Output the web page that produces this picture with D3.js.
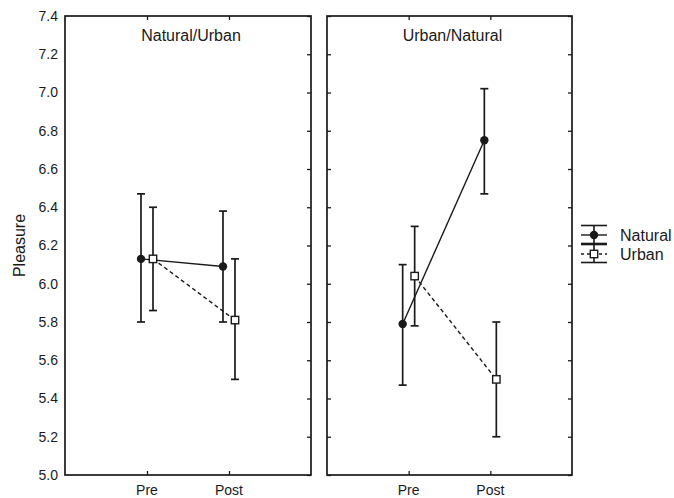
<!DOCTYPE html>
<html>
<head>
<meta charset="utf-8">
<script src="https://cdn.jsdelivr.net/npm/d3@7"></script>
<style>
  body { margin: 0; background: #fff; }
  text { font-family: "Liberation Sans", Arial, sans-serif; fill: #1a1a1a; }
</style>
</head>
<body>
<div id="chart"></div>
<script>
// data
var panels = ["Natural/Urban", "Urban/Natural"];
var times = ["Pre", "Post"];
var seriesNames = ["Natural", "Urban"];

// mean, lower, upper  [panel][time]
var naturalMean  = [[6.13, 6.09], [5.79, 6.75]];
var naturalLow   = [[5.80, 5.80], [5.47, 6.47]];
var naturalHigh  = [[6.47, 6.38], [6.10, 7.02]];
var urbanMean    = [[6.13, 5.81], [6.04, 5.50]];
var urbanLow     = [[5.86, 5.50], [5.78, 5.20]];
var urbanHigh    = [[6.40, 6.13], [6.30, 5.80]];

var yTicks = [5.0, 5.2, 5.4, 5.6, 5.8, 6.0, 6.2, 6.4, 6.6, 6.8, 7.0, 7.2, 7.4];

var width = 674, height = 498;
var topY = 16, bottomY = 475;
var panelX = [[65, 311], [327, 572]];
var offset = [-6, 6];   // Natural left, Urban right of the tick
var ink = "#1a1a1a";

var svg = d3.select("#chart").append("svg")
    .attr("width", width)
    .attr("height", height);

var y = d3.scaleLinear().domain([5.0, 7.4]).range([bottomY, topY]);

var series = [
  { name: seriesNames[0], mean: naturalMean, low: naturalLow, high: naturalHigh, dash: null, marker: "circle" },
  { name: seriesNames[1], mean: urbanMean, low: urbanLow, high: urbanHigh, dash: "4,3", marker: "square" }
];

function drawMarker(g, type, cx, cy) {
  if (type == "circle") {
    g.append("circle").attr("cx", cx).attr("cy", cy).attr("r", 4.2)
      .attr("fill", ink);
  } else {
    g.append("rect").attr("x", cx - 3.7).attr("y", cy - 3.7)
      .attr("width", 7.4).attr("height", 7.4)
      .attr("fill", "#fff").attr("stroke", ink).attr("stroke-width", 1.4);
  }
}

panels.forEach(function(title, p) {
  var x0 = panelX[p][0], x1 = panelX[p][1];
  var x = d3.scaleLinear().domain([0, 3]).range([x0, x1]);
  var xPos = function(t) { return x(t + 1); };

  var g = svg.append("g");

  // inward ticks
  var tickFmt = function() { return ""; };
  g.append("g").attr("transform", "translate(" + x1 + ",0)")
    .call(d3.axisLeft(y).tickValues(yTicks).tickSize(4).tickFormat(tickFmt));
  if (p == 1) {
    g.append("g").attr("transform", "translate(" + x0 + ",0)")
      .call(d3.axisRight(y).tickValues(yTicks).tickSize(4).tickFormat(tickFmt));
  }
  g.append("g").attr("transform", "translate(0," + topY + ")")
    .call(d3.axisBottom(x).tickValues([1, 2]).tickSize(4).tickFormat(tickFmt));
  g.append("g").attr("transform", "translate(0," + bottomY + ")")
    .call(d3.axisTop(x).tickValues([1, 2]).tickSize(4).tickFormat(tickFmt));
  g.selectAll(".domain").remove();
  g.selectAll(".tick line").attr("stroke", ink).attr("stroke-width", 1.3);

  // x labels
  times.forEach(function(t, i) {
    g.append("text").attr("x", xPos(i)).attr("y", 495)
      .attr("text-anchor", "middle").style("font-size", "14px").text(t);
  });

  // frame
  g.append("rect").attr("x", x0).attr("y", topY)
    .attr("width", x1 - x0).attr("height", bottomY - topY)
    .attr("fill", "none").attr("stroke", ink).attr("stroke-width", 1.7);

  g.append("text").attr("x", (x0 + x1) / 2 + 3).attr("y", 41)
    .attr("text-anchor", "middle").style("font-size", "16px").text(title);

  series.forEach(function(s, k) {
    var pts = times.map(function(t, i) {
      return { x: xPos(i) + offset[k], m: s.mean[p][i], lo: s.low[p][i], hi: s.high[p][i] };
    });

    // error bars
    pts.forEach(function(d) {
      g.append("line").attr("x1", d.x).attr("x2", d.x)
        .attr("y1", y(d.lo)).attr("y2", y(d.hi))
        .attr("stroke", ink).attr("stroke-width", 1.7);
      [d.lo, d.hi].forEach(function(v) {
        g.append("line").attr("x1", d.x - 4).attr("x2", d.x + 4)
          .attr("y1", y(v)).attr("y2", y(v))
          .attr("stroke", ink).attr("stroke-width", 1.7);
      });
    });

    g.append("path")
      .attr("d", d3.line().x(function(d) { return d.x; }).y(function(d) { return y(d.m); })(pts))
      .attr("fill", "none").attr("stroke", ink).attr("stroke-width", 1.4)
      .attr("stroke-dasharray", s.dash);

    pts.forEach(function(d) { drawMarker(g, s.marker, d.x, y(d.m)); });
  });
});

// y axis labels
var ya = svg.append("g").attr("transform", "translate(" + panelX[0][0] + ",0)")
  .call(d3.axisLeft(y).tickValues(yTicks).tickSize(0).tickPadding(7).tickFormat(d3.format(".1f")));
ya.select(".domain").remove();
ya.selectAll("text").style("font-size", "14px")
  .style("font-family", '"Liberation Sans", Arial, sans-serif').attr("fill", ink);

svg.append("text")
  .attr("transform", "translate(25," + ((topY + bottomY) / 2) + ") rotate(-90)")
  .attr("text-anchor", "middle").style("font-size", "16px").text("Pleasure");

// legend
var legY = [235, 254];
var lg = svg.append("g");
series.forEach(function(s, k) {
  var cy = legY[k], cx = 594;
  lg.append("line").attr("x1", 581).attr("x2", 607).attr("y1", cy - 9.5).attr("y2", cy - 9.5)
    .attr("stroke", ink).attr("stroke-width", 1.6);
  lg.append("line").attr("x1", 581).attr("x2", 607).attr("y1", cy + 8.5).attr("y2", cy + 8.5)
    .attr("stroke", ink).attr("stroke-width", 1.6);
  lg.append("line").attr("x1", cx).attr("x2", cx).attr("y1", cy - 9.5).attr("y2", cy + 8.5)
    .attr("stroke", ink).attr("stroke-width", 1.6);
  lg.append("line").attr("x1", 581).attr("x2", 607).attr("y1", cy).attr("y2", cy)
    .attr("stroke", ink).attr("stroke-width", 1.4).attr("stroke-dasharray", s.dash ? "3,3" : null);
  drawMarker(lg, s.marker, cx, cy);
  lg.append("text").attr("x", 620).attr("y", cy + 5.5).style("font-size", "16px").text(s.name);
});
</script>
</body>
</html>
